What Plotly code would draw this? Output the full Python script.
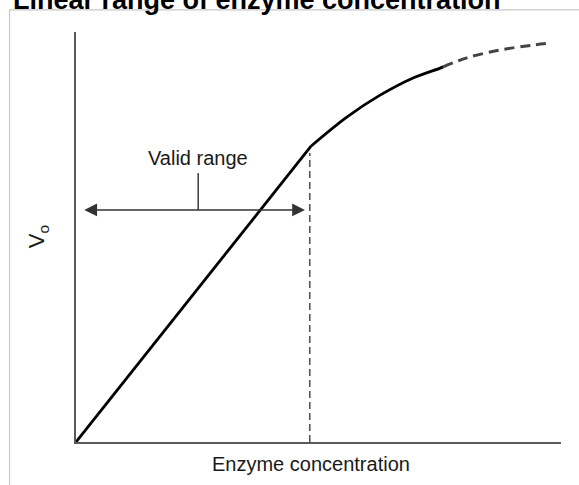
import plotly.graph_objects as go

# Data (enzyme concentration vs initial velocity, arbitrary units)
linear_x = [0.0, 4.85]
linear_y = [0.0, 7.22]

curve_x = [4.85, 5.59, 6.27, 6.95, 7.51, 7.57]
curve_y = [7.22, 7.93, 8.46, 8.88, 9.12, 9.15]

plateau_x = [7.57, 8.06, 8.74, 9.42, 9.77]
plateau_y = [9.15, 9.37, 9.56, 9.68, 9.73]

limit_x = [4.82, 4.82]
limit_y = [0.0, 7.05]

range_start = 0.14
range_end = 4.72
range_level = 5.66
range_tick_x = [2.52, 2.52]
range_tick_y = [5.66, 6.56]
range_label = "Valid range"
range_label_y = 6.93

title_text = "Linear range of enzyme concentration"
x_label = "Enzyme concentration"
y_label = "V<sub>o</sub>"

FONT = "Liberation Sans, Arial, sans-serif"

fig = go.Figure()

fig.add_trace(go.Scatter(x=linear_x, y=linear_y, mode="lines",
                         line=dict(color="#000000", width=2.8), hoverinfo="skip"))
fig.add_trace(go.Scatter(x=curve_x, y=curve_y, mode="lines",
                         line=dict(color="#000000", width=2.8, shape="spline", smoothing=1),
                         hoverinfo="skip"))
fig.add_trace(go.Scatter(x=plateau_x, y=plateau_y, mode="lines",
                         line=dict(color="#444444", width=3, dash="10px,6px", shape="spline"),
                         hoverinfo="skip"))
fig.add_trace(go.Scatter(x=limit_x, y=limit_y, mode="lines",
                         line=dict(color="#555555", width=1.6, dash="7px,4px"), hoverinfo="skip"))
fig.add_trace(go.Scatter(x=range_tick_x, y=range_tick_y, mode="lines",
                         line=dict(color="#444444", width=1.6), hoverinfo="skip"))

# double-headed arrow for the valid range
fig.add_annotation(x=range_end, y=range_level, ax=range_start, ay=range_level,
                   xref="x", yref="y", axref="x", ayref="y",
                   text="", showarrow=True, arrowhead=2, startarrowhead=2,
                   arrowside="end+start", arrowsize=1.7, startarrowsize=1.7,
                   arrowwidth=1.5, arrowcolor="#333333", standoff=0, startstandoff=0)

fig.add_annotation(x=range_tick_x[0], y=range_label_y, xref="x", yref="y",
                   text=range_label, showarrow=False,
                   font=dict(family=FONT, size=20, color="#1a1a1a"))

# axis labels
fig.add_annotation(x=0.485, y=-0.054, xref="paper", yref="paper",
                   text=x_label, showarrow=False, xanchor="center", yanchor="middle",
                   font=dict(family=FONT, size=20, color="#1a1a1a"))
fig.add_annotation(x=-0.078, y=0.5, xref="paper", yref="paper",
                   text=y_label, showarrow=False, textangle=-90,
                   xanchor="center", yanchor="middle",
                   font=dict(family=FONT, size=22, color="#1a1a1a"))

# cropped title
fig.add_annotation(x=-0.135, y=1.077, xref="paper", yref="paper",
                   text="<b>" + title_text + "</b>", showarrow=False,
                   xanchor="left", yanchor="middle",
                   font=dict(family=FONT, size=27, color="#000000"))

# image frame
fig.add_shape(type="rect", xref="paper", yref="paper",
              x0=-0.137, x1=1.1, y0=-0.2, y1=1.054,
              line=dict(color="#c8c8c8", width=1.2), fillcolor="rgba(0,0,0,0)", layer="below")

axis_common = dict(showgrid=False, zeroline=False, showticklabels=False, ticks="",
                   showline=True, linecolor="#5a5a5a", linewidth=2, fixedrange=True)
fig.update_xaxes(range=[0, 10], **axis_common)
fig.update_yaxes(range=[0, 10], **axis_common)

fig.update_layout(width=579, height=485, showlegend=False,
                  margin=dict(l=76, r=18, t=32, b=43),
                  paper_bgcolor="white", plot_bgcolor="white")

fig.write_html("out.html", config={"displayModeBar": False},
               post_script="document.body.style.margin='0';document.body.style.overflow='hidden';")
